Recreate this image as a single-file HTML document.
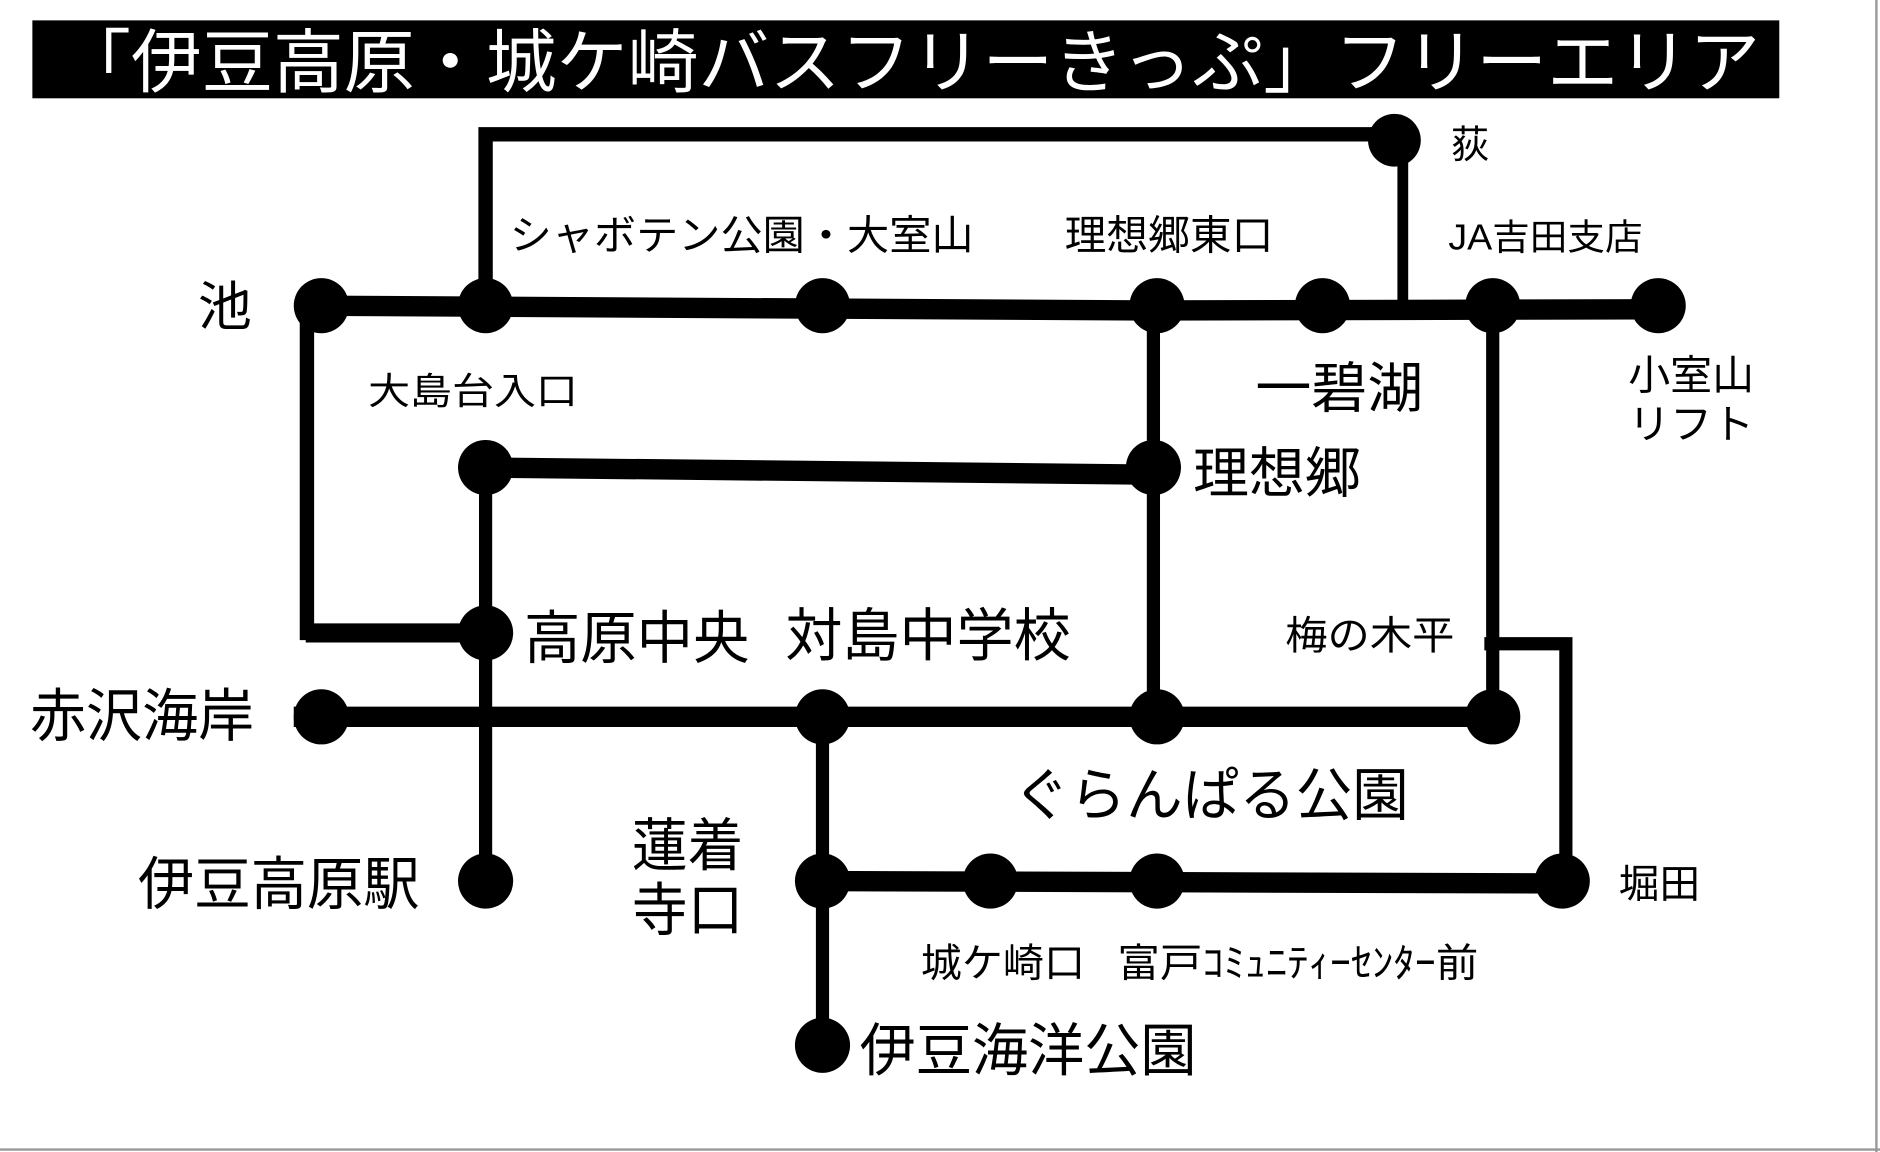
<!DOCTYPE html>
<html><head><meta charset="utf-8"><style>
html,body{margin:0;padding:0;background:#fff;}
svg{display:block;}
text{font-family:"Liberation Sans","Noto Sans CJK JP",sans-serif;fill:#000;}
</style></head><body>
<svg width="1880" height="1152" viewBox="0 0 1568 961" preserveAspectRatio="none" xmlns="http://www.w3.org/2000/svg">
<rect x="0" y="0" width="1568" height="961" fill="#fff"/>
<line x1="1565" y1="0" x2="1565" y2="961" stroke="#999" stroke-width="2"/>
<line x1="0" y1="959" x2="1568" y2="959" stroke="#999" stroke-width="2"/>
<rect x="27" y="17" width="1457" height="65" fill="#000"/>
<text x="50" y="72" font-size="58" style="fill:#fff" textLength="1418" lengthAdjust="spacingAndGlyphs">「伊豆高原・城ケ崎バスフリーきっぷ」フリーエリア</text>
<g stroke="#000" fill="none" stroke-linecap="butt">
<polyline points="405,255 405,112 1163,112" stroke-width="12"/>
<line x1="1170" y1="117" x2="1170" y2="256" stroke-width="9"/>
<polyline points="256,255 256,528 405,528" stroke-width="12"/>
<line x1="405" y1="390" x2="405" y2="735" stroke-width="11"/>
<line x1="962" y1="255" x2="962" y2="598" stroke-width="11"/>
<line x1="1245" y1="255" x2="1245" y2="598" stroke-width="11"/>
<polyline points="1238,537 1306,537 1306,735" stroke-width="11"/>
<line x1="686" y1="598" x2="686" y2="872" stroke-width="11"/>
<polyline points="255,255 965,259 1383,258" stroke-width="17"/>
<line x1="405" y1="390" x2="962" y2="396" stroke-width="17"/>
<polyline points="245,598 686,598 1245,598" stroke-width="17"/>
<line x1="686" y1="735" x2="1303" y2="737" stroke-width="17"/>
<line x1="255" y1="528" x2="405" y2="528" stroke-width="16"/>
</g>
<g fill="#000">
<circle cx="1163" cy="117" r="22"/>
<circle cx="268" cy="255" r="23"/><circle cx="405" cy="255" r="23"/><circle cx="686" cy="255" r="23"/>
<circle cx="965" cy="255" r="23"/><circle cx="1103" cy="255" r="23"/><circle cx="1245" cy="255" r="23"/><circle cx="1383" cy="255" r="23"/>
<circle cx="405" cy="390" r="23"/><circle cx="962" cy="390" r="23"/>
<circle cx="405" cy="528" r="23"/>
<circle cx="268" cy="598" r="23"/><circle cx="686" cy="598" r="23"/><circle cx="965" cy="598" r="23"/><circle cx="1245" cy="598" r="23"/>
<circle cx="405" cy="735" r="23"/>
<circle cx="686" cy="735" r="23"/><circle cx="826" cy="735" r="23"/><circle cx="965" cy="735" r="23"/><circle cx="1303" cy="735" r="23"/>
<circle cx="686" cy="872" r="23"/>
</g>
<text x="1210" y="132" font-size="32">荻</text>
<text x="425" y="208" font-size="34" textLength="387" lengthAdjust="spacingAndGlyphs">シャボテン公園・大室山</text>
<text x="888" y="208" font-size="34" textLength="174" lengthAdjust="spacingAndGlyphs">理想郷東口</text>
<text x="1208" y="208" font-size="30" textLength="162" lengthAdjust="spacingAndGlyphs">JA吉田支店</text>
<text x="165" y="271" font-size="44" textLength="45" lengthAdjust="spacingAndGlyphs">池</text>
<text x="307" y="337" font-size="31" textLength="175" lengthAdjust="spacingAndGlyphs">大島台入口</text>
<text x="1047" y="340" font-size="46" textLength="140" lengthAdjust="spacingAndGlyphs">一碧湖</text>
<text x="1358" y="325" font-size="34" textLength="105" lengthAdjust="spacingAndGlyphs">小室山</text>
<text x="1358" y="366" font-size="34" textLength="105" lengthAdjust="spacingAndGlyphs">リフト</text>
<text x="995" y="411" font-size="46" textLength="140" lengthAdjust="spacingAndGlyphs">理想郷</text>
<text x="437" y="549" font-size="48" textLength="188" lengthAdjust="spacingAndGlyphs">高原中央</text>
<text x="655" y="547" font-size="48" textLength="238" lengthAdjust="spacingAndGlyphs">対島中学校</text>
<text x="1072" y="542" font-size="33" textLength="141" lengthAdjust="spacingAndGlyphs">梅の木平</text>
<text x="25" y="614" font-size="48" textLength="187" lengthAdjust="spacingAndGlyphs">赤沢海岸</text>
<text x="845" y="680" font-size="48" textLength="330" lengthAdjust="spacingAndGlyphs">ぐらんぱる公園</text>
<text x="527" y="722" font-size="48" textLength="93" lengthAdjust="spacingAndGlyphs">蓮着</text>
<text x="527" y="776" font-size="48" textLength="93" lengthAdjust="spacingAndGlyphs">寺口</text>
<text x="115" y="754" font-size="48" textLength="235" lengthAdjust="spacingAndGlyphs">伊豆高原駅</text>
<text x="1350" y="749" font-size="33" textLength="68" lengthAdjust="spacingAndGlyphs">堀田</text>
<text x="768" y="815" font-size="33" textLength="137" lengthAdjust="spacingAndGlyphs">城ケ崎口</text>
<text x="932" y="815" font-size="33" textLength="301" lengthAdjust="spacingAndGlyphs">富戸ｺﾐｭﾆﾃｨｰｾﾝﾀｰ前</text>
<text x="717" y="893" font-size="48" textLength="281" lengthAdjust="spacingAndGlyphs">伊豆海洋公園</text>
</svg>
</body></html>
